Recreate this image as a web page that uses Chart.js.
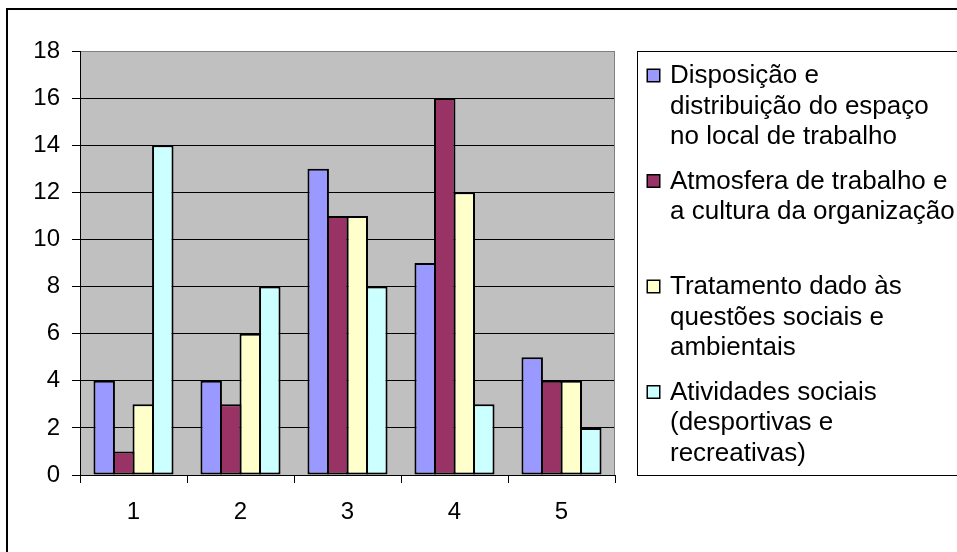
<!DOCTYPE html>
<html>
<head>
<meta charset="utf-8">
<script src="https://cdn.jsdelivr.net/npm/chart.js@4/dist/chart.umd.min.js"></script>
<style>
  html, body { margin: 0; padding: 0; background: #ffffff; }
  #wrap { width: 957px; height: 552px; }
</style>
</head>
<body>
<div id="wrap"><canvas id="c" width="957" height="552"></canvas></div>
<script>
// Categories on the horizontal axis
const categories = ['1', '2', '3', '4', '5'];

// Series names, split into the lines shown in the legend
const seriesNames = [
  ['Disposição e', 'distribuição do espaço', 'no local de trabalho'],
  ['Atmosfera de trabalho e', 'a cultura da organização'],
  ['Tratamento dado às', 'questões sociais e', 'ambientais'],
  ['Atividades sociais', '(desportivas e', 'recreativas)']
];

// Values per series
const disposicao = [4, 4, 13, 9, 5];
const atmosfera  = [1, 3, 11, 16, 4];
const tratamento = [3, 6, 11, 12, 4];
const atividades = [14, 8, 8, 3, 2];

// Value axis range
const yMin = 0;
const yMax = 18;
const yStep = 2;

const seriesValues = [disposicao, atmosfera, tratamento, atividades];
const seriesColors = ['#9999FF', '#993366', '#FFFFCC', '#CCFFFF'];

const FONT = '"Liberation Sans", Arial, sans-serif';
Chart.defaults.font.family = FONT;
Chart.defaults.color = '#000';

// Grey plot background and grey right edge of the plot
const plotFrame = {
  id: 'plotFrame',
  beforeDraw(chart) {
    const a = chart.chartArea, ctx = chart.ctx;
    ctx.save();
    ctx.fillStyle = '#C0C0C0';
    ctx.fillRect(a.left, a.top, a.right - a.left, a.bottom - a.top);
    ctx.restore();
  },
  beforeDatasetsDraw(chart) {
    const a = chart.chartArea, ctx = chart.ctx;
    ctx.save();
    ctx.strokeStyle = '#808080';
    ctx.lineWidth = 1;
    ctx.beginPath();
    ctx.moveTo(a.right - 0.5, a.top);
    ctx.lineTo(a.right - 0.5, a.bottom);
    ctx.stroke();
    ctx.restore();
  }
};

// Boxed legend on the right plus the outer frame
const boxLegend = {
  id: 'boxLegend',
  afterDraw(chart) {
    const a = chart.chartArea, ctx = chart.ctx;
    const left = 637, top = a.top, bottom = a.bottom;
    ctx.save();
    ctx.strokeStyle = '#000';
    ctx.lineWidth = 1;
    ctx.strokeRect(left + 0.5, top + 0.5, 600, bottom - top);

    const slot = 105.5, lineH = 30.5;
    ctx.font = '26px ' + FONT;
    ctx.textAlign = 'left';
    ctx.textBaseline = 'alphabetic';
    chart.data.datasets.forEach((ds, i) => {
      const base = top + 32 + i * slot;
      ctx.fillStyle = ds.backgroundColor;
      ctx.fillRect(647, base - 14, 13, 13);
      ctx.lineWidth = 1.5;
      ctx.strokeStyle = '#000';
      ctx.strokeRect(647.25, base - 13.75, 12.5, 12.5);
      ctx.fillStyle = '#000';
      ds.lines.forEach((t, k) => ctx.fillText(t, 670, base + k * lineH));
    });

    // outer chart frame
    ctx.lineWidth = 2;
    ctx.strokeStyle = '#000';
    ctx.strokeRect(7, 9, 2000, 2000);
    ctx.restore();
  }
};

new Chart(document.getElementById('c'), {
  type: 'bar',
  data: {
    labels: categories,
    datasets: seriesValues.map((vals, i) => ({
      label: seriesNames[i].join(' '),
      lines: seriesNames[i],
      data: vals,
      backgroundColor: seriesColors[i],
      borderColor: '#000',
      borderWidth: 2,
      borderSkipped: false,
      categoryPercentage: 0.73,
      barPercentage: 1.1
    }))
  },
  options: {
    responsive: false,
    animation: false,
    devicePixelRatio: 1,
    layout: { padding: { left: 8, top: 51, right: 342, bottom: 0 } },
    plugins: { legend: { display: false }, tooltip: { enabled: false } },
    scales: {
      x: {
        grid: { offset: true, drawOnChartArea: false, drawTicks: true, tickLength: 8, color: '#000', tickColor: '#000' },
        border: { color: '#000', width: 1 },
        ticks: { padding: 15, font: { size: 24 }, color: '#000', maxRotation: 0 },
        afterFit(s) { s.height = 77; }
      },
      y: {
        min: yMin,
        max: yMax,
        grid: {
          color: c => (c.tick && c.tick.value === yMax) ? '#808080' : '#000',
          tickColor: '#000',
          tickLength: 8,
          lineWidth: 1
        },
        border: { color: '#000', width: 1 },
        ticks: { stepSize: yStep, padding: 12, font: { size: 24 }, color: '#000' },
        afterFit(s) { s.width = 72; }
      }
    }
  },
  plugins: [plotFrame, boxLegend]
});
</script>
</body>
</html>
